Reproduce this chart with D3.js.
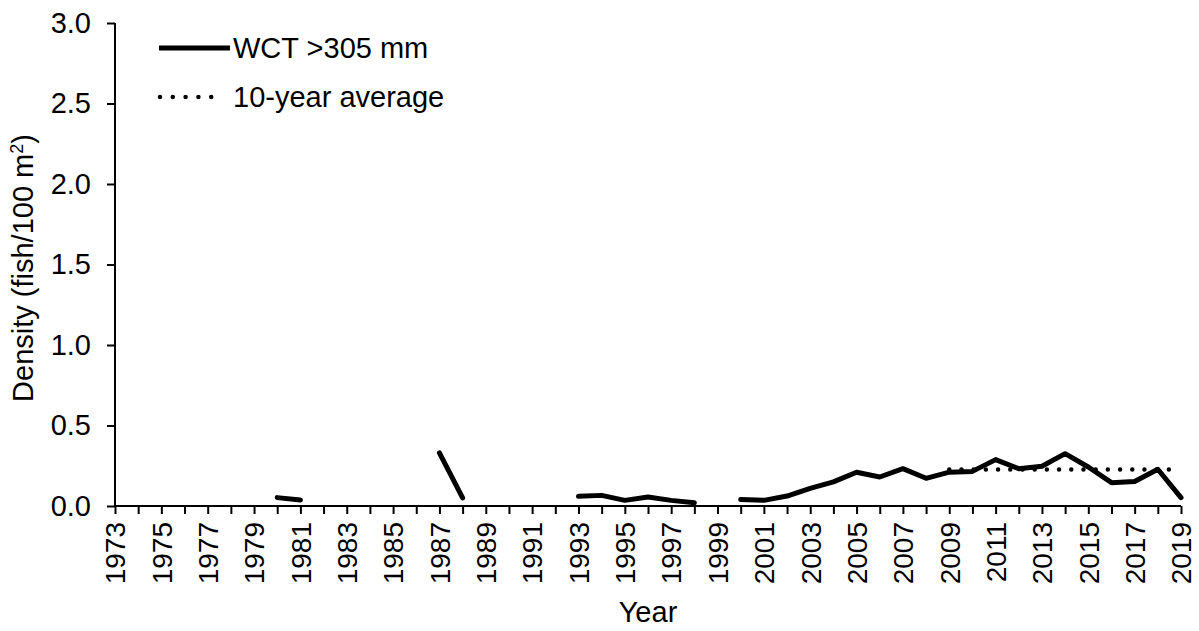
<!doctype html>
<html>
  <head>
    <script src="https://cdn.jsdelivr.net/npm/d3@7/dist/d3.min.js"></script>
    <style>
      body { margin: 0; background: #fff; }
      text { font-family: "Liberation Sans", Arial, sans-serif; fill: #000; }
    </style>
  </head>
  <body>
    <svg id="chart" width="1199" height="631"></svg>

    <script>
      // years on the axis and density for WCT > 305 mm (null = not sampled)
      var years = d3.range(1973, 2020);
      var sampled = [1980, 1981, 1987, 1988, 1993, 1994, 1995, 1996, 1997, 1998,
                     2000, 2001, 2002, 2003, 2004, 2005, 2006, 2007, 2008, 2009,
                     2010, 2011, 2012, 2013, 2014, 2015, 2016, 2017, 2018, 2019];
      var density = [0.052, 0.037, 0.33, 0.05, 0.06, 0.066, 0.035, 0.056, 0.035, 0.02,
                     0.04, 0.035, 0.062, 0.11, 0.15, 0.21, 0.18, 0.232, 0.172, 0.21,
                     0.215, 0.288, 0.232, 0.247, 0.325, 0.242, 0.145, 0.152, 0.228, 0.052];
      var avgYears = [2009, 2019];
      var avgValue = 0.226;
      var yTicks = [0, 0.5, 1.0, 1.5, 2.0, 2.5, 3.0];

      var byYear = {};
      for (var i = 0; i < sampled.length; i++) {
        byYear[sampled[i]] = density[i];
      }
      var series = years.map(function(y) {
        return { year: y, value: byYear[y] === undefined ? null : byYear[y] };
      });

      var svg = d3.select("#chart");
      var x = d3.scaleLinear().domain([1973, 2019]).range([115, 1181]);
      var y = d3.scaleLinear().domain([0, 3]).range([506, 23]);
      var fontSize = "29px";

      // y axis
      var yAxis = svg.append("g")
        .attr("transform", "translate(115,0)")
        .call(d3.axisLeft(y).tickValues(yTicks).tickFormat(d3.format(".1f")).tickSize(8).tickPadding(16));

      // x axis, a tick every year, a label every other year
      var xAxis = svg.append("g")
        .attr("transform", "translate(0,506)")
        .call(d3.axisBottom(x).tickValues(years)
          .tickFormat(function(d) { return (d - 1973) % 2 === 0 ? d : ""; })
          .tickSize(8));

      svg.selectAll(".tick line").attr("stroke", "#000").attr("stroke-width", 2);
      svg.selectAll(".tick text").style("font-size", fontSize).attr("font-family", null);
      yAxis.select(".domain").attr("stroke", "#000").attr("stroke-width", 2)
        .attr("d", "M0," + y(3) + "V" + y(0));
      xAxis.select(".domain").attr("stroke", "#000").attr("stroke-width", 2)
        .attr("d", "M" + x(1973) + ",0H" + x(2019));

      xAxis.selectAll(".tick text")
        .style("font-size", "28px")
        .attr("text-anchor", "end")
        .attr("transform", "rotate(-90)")
        .attr("x", -16)
        .attr("y", 0)
        .attr("dy", "0.35em");

      // data line with gaps
      var line = d3.line()
        .defined(function(d) { return d.value !== null; })
        .x(function(d) { return x(d.year); })
        .y(function(d) { return y(d.value); });

      svg.append("path")
        .datum(series)
        .attr("fill", "none")
        .attr("stroke", "#000")
        .attr("stroke-width", 5)
        .attr("stroke-linecap", "round")
        .attr("stroke-linejoin", "round")
        .attr("d", line);

      // 10-year average
      svg.append("path")
        .datum(avgYears)
        .attr("fill", "none")
        .attr("stroke", "#000")
        .attr("stroke-width", 4.5)
        .attr("stroke-linecap", "round")
        .attr("stroke-dasharray", "0 12.2")
        .attr("d", d3.line().x(function(d) { return x(d); }).y(function() { return y(avgValue); }));

      // legend
      var legend = svg.append("g");
      legend.append("line")
        .attr("x1", 159).attr("x2", 230).attr("y1", 48).attr("y2", 48)
        .attr("stroke", "#000").attr("stroke-width", 5);
      legend.append("text")
        .attr("x", 233).attr("y", 48).attr("dy", "0.35em")
        .style("font-size", fontSize)
        .text("WCT >305 mm");
      legend.append("line")
        .attr("x1", 160).attr("x2", 224).attr("y1", 97).attr("y2", 97)
        .attr("stroke", "#000").attr("stroke-width", 4.5)
        .attr("stroke-linecap", "round")
        .attr("stroke-dasharray", "0 12.8");
      legend.append("text")
        .attr("x", 233).attr("y", 97).attr("dy", "0.35em")
        .style("font-size", fontSize)
        .text("10-year average");

      // axis titles
      var yTitle = svg.append("text")
        .attr("transform", "translate(33,268) rotate(-90)")
        .attr("text-anchor", "middle")
        .style("font-size", fontSize);
      yTitle.append("tspan").text("Density (fish/100 m");
      yTitle.append("tspan").attr("baseline-shift", "super").style("font-size", "18px").text("2");
      yTitle.append("tspan").text(")");

      svg.append("text")
        .attr("x", 648).attr("y", 622)
        .attr("text-anchor", "middle")
        .style("font-size", fontSize)
        .text("Year");
    </script>
  </body>
</html>
